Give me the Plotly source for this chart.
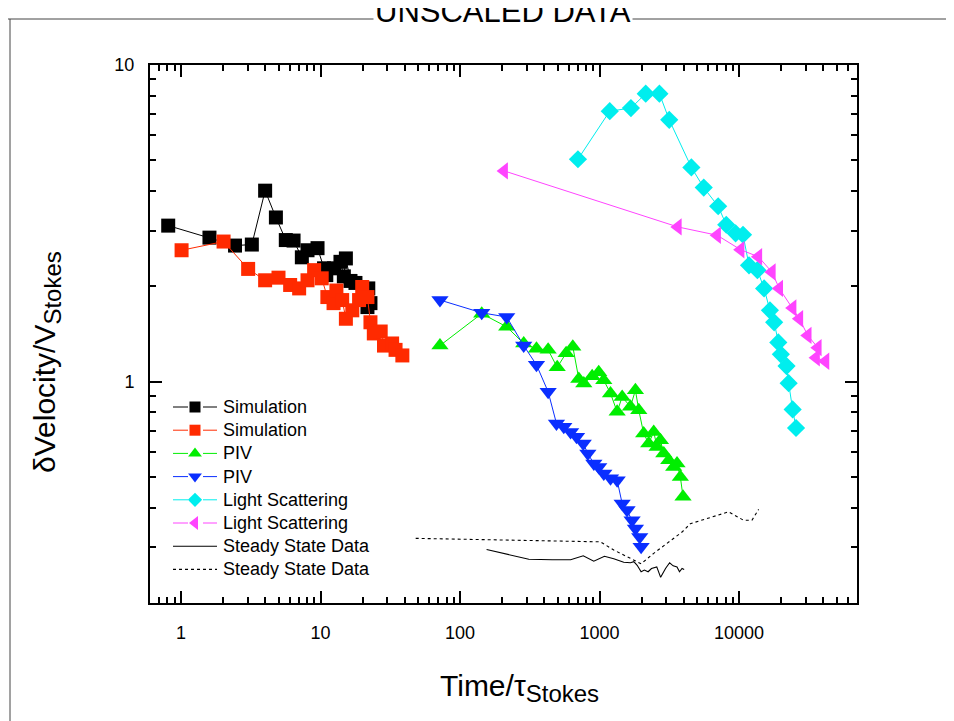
import plotly.graph_objects as go

# ---------------- data ----------------
sim1_x = [0.81, 1.60, 2.44, 3.22, 4.01, 4.79, 5.64, 6.41, 7.35, 8.07, 9.52, 10.6, 11.0, 12.5, 13.9, 14.7, 15.2, 16.4, 17.8, 22.0, 22.8, 21.7]
sim1_y = [3.11, 2.85, 2.69, 2.71, 4.01, 3.30, 2.80, 2.79, 2.47, 2.60, 2.64, 2.28, 2.17, 2.28, 2.39, 2.15, 2.45, 2.08, 2.05, 1.97, 1.77, 1.72]

sim2_x = [1.01, 2.02, 3.03, 4.01, 5.0, 6.06, 7.03, 8.07, 9.0, 10.2, 11.2, 12.4, 13.0, 14.3, 15.2, 16.9, 18.9, 19.9, 21.7, 22.8, 24.1, 27.0, 28.5, 32.6, 34.5, 38.6]
sim2_y = [2.60, 2.77, 2.27, 2.09, 2.13, 2.02, 1.97, 2.09, 2.25, 2.12, 1.85, 1.77, 1.94, 1.81, 1.58, 1.68, 1.81, 1.99, 1.85, 1.54, 1.42, 1.44, 1.30, 1.32, 1.26, 1.21]

piv1_x = [71.8, 143, 216, 286, 353, 428, 497, 576, 643, 710, 771, 885, 986, 1072, 1198, 1337, 1452, 1665, 1807, 1910, 2071, 2250, 2444, 2583, 2730, 2885, 3133, 3400, 3590, 3793, 3965]
piv1_y = [1.30, 1.64, 1.49, 1.32, 1.27, 1.26, 1.11, 1.23, 1.29, 1.02, 0.987, 1.04, 1.07, 1.01, 0.918, 0.803, 0.895, 0.833, 0.940, 0.813, 0.686, 0.638, 0.694, 0.622, 0.653, 0.593, 0.565, 0.538, 0.551, 0.50, 0.433]

piv2_x = [71.8, 143, 216, 286, 353, 428, 491, 554, 620, 684, 764, 824, 910, 986, 1072, 1198, 1337, 1452, 1574, 1710, 1807, 1940, 1985]
piv2_y = [1.81, 1.65, 1.60, 1.30, 1.13, 0.929, 0.738, 0.72, 0.694, 0.67, 0.638, 0.593, 0.551, 0.538, 0.513, 0.495, 0.488, 0.412, 0.393, 0.365, 0.344, 0.323, 0.301]

ls1_x = [700, 1183, 1678, 2142, 2685, 3157, 4550, 5580, 7080, 8090, 9440, 10670, 11780, 13530, 15100, 16630, 17840, 19100, 19920, 21880, 22650, 24200, 25590]
ls1_y = [5.04, 7.15, 7.31, 8.12, 8.12, 6.71, 4.75, 4.10, 3.58, 3.13, 2.94, 2.91, 2.33, 2.25, 1.97, 1.68, 1.54, 1.33, 1.22, 1.12, 0.989, 0.817, 0.714]

ls2_x = [207, 3640, 6960, 10260, 13750, 17170, 19400, 24200, 27040, 31050, 36670, 35620, 41600]
ls2_y = [4.63, 3.08, 2.90, 2.61, 2.48, 2.22, 1.97, 1.71, 1.58, 1.40, 1.28, 1.19, 1.16]

ss1_x = [155, 311, 458, 620, 764, 909, 1084, 1264, 1490, 1665, 1760, 1860, 1985, 2095, 2228, 2355, 2570, 2740, 2970, 3177, 3370, 3590, 3740, 3900, 4040]
ss1_y = [0.295, 0.275, 0.274, 0.274, 0.282, 0.271, 0.281, 0.276, 0.269, 0.268, 0.270, 0.263, 0.251, 0.254, 0.251, 0.257, 0.260, 0.241, 0.257, 0.268, 0.262, 0.260, 0.251, 0.257, 0.255]

ss2_x = [48.1, 1015, 1264, 1577, 1985, 2444, 3048, 3900, 4475, 5890, 8410, 10770, 12360, 13800]
ss2_y = [0.320, 0.312, 0.294, 0.280, 0.266, 0.287, 0.308, 0.335, 0.356, 0.370, 0.388, 0.365, 0.365, 0.395]

x_tickvals = [1, 10, 100, 1000, 10000]
x_ticktext = ["1", "10", "100", "1000", "10000"]
y_tickvals = [1, 10]
y_ticktext = ["1", "10"]

legend_names = ["Simulation", "Simulation", "PIV", "PIV", "Light Scattering",
                "Light Scattering", "Steady State Data", "Steady State Data"]

FONT = "Liberation Sans, Arial"
C_BLACK, C_RED, C_GREEN, C_BLUE, C_CYAN, C_MAG = "#000000", "#FF2A00", "#00EE00", "#0A2EFF", "#00EEEE", "#FF44FF"

series = [
    (sim1_x, sim1_y, C_BLACK, "square", 14, "solid"),
    (sim2_x, sim2_y, C_RED, "square", 14, "solid"),
    (piv1_x, piv1_y, C_GREEN, "triangle-up", 15, "solid"),
    (piv2_x, piv2_y, C_BLUE, "triangle-down", 15, "solid"),
    (ls1_x, ls1_y, C_CYAN, "diamond", 14, "solid"),
    (ls2_x, ls2_y, C_MAG, "triangle-left", 15, "solid"),
    (ss1_x, ss1_y, C_BLACK, None, 0, "solid"),
    (ss2_x, ss2_y, C_BLACK, None, 0, "dot"),
]

# plot-area geometry in screen pixels (used only to place legend / frame / titles)
PX_L, PX_R, PX_T, PX_B = 150, 857, 65, 603
def px(x):
    return (x - PX_L) / (PX_R - PX_L)
def py(y):
    return (PX_B - y) / (PX_B - PX_T)

# ---------------- figure ----------------
fig = go.Figure()

for (x, y, color, sym, size, dash), name in zip(series, legend_names):
    if sym is None:
        fig.add_trace(go.Scatter(x=x, y=y, name=name, mode="lines", showlegend=False,
                                 line=dict(color=color, width=1.1, dash=dash)))
    else:
        fig.add_trace(go.Scatter(x=x, y=y, name=name, mode="lines+markers", showlegend=False,
                                 line=dict(color=color, width=1),
                                 marker=dict(symbol=sym, size=size, color=color, line=dict(width=0))))

# ---- custom legend (overlay axis x2/y2 in pixel-like units) ----
LEG_X0, LEG_X1, LEG_XM, LEG_TX = 173, 217, 195, 221
LEG_Y0, LEG_DY = 407, 23.2
shapes = []
annotations = []
for i, ((x, y, color, sym, size, dash), name) in enumerate(zip(series, legend_names)):
    ry = LEG_Y0 + i * LEG_DY
    if sym is None:
        shapes.append(dict(type="line", xref="paper", yref="paper", x0=px(LEG_X0), x1=px(LEG_X1),
                           y0=py(ry), y1=py(ry), line=dict(color=color, width=1.1, dash=dash)))
    else:
        shapes.append(dict(type="line", xref="paper", yref="paper", x0=px(LEG_X0), x1=px(LEG_XM - 7),
                           y0=py(ry), y1=py(ry), line=dict(color=color, width=1)))
        shapes.append(dict(type="line", xref="paper", yref="paper", x0=px(LEG_XM + 8), x1=px(LEG_X1),
                           y0=py(ry), y1=py(ry), line=dict(color=color, width=1)))
        fig.add_trace(go.Scatter(x=[LEG_XM], y=[ry], xaxis="x2", yaxis="y2", mode="markers",
                                 showlegend=False, hoverinfo="skip",
                                 marker=dict(symbol=sym, size=size - 3, color=color, line=dict(width=0))))
    annotations.append(dict(text=name, xref="paper", yref="paper", x=px(LEG_TX), y=py(ry),
                            xanchor="left", yanchor="middle", showarrow=False,
                            font=dict(family=FONT, size=18, color="black")))

minor_x = [m * 10 ** d for d in range(-1, 5) for m in range(2, 10)]
minor_y = [m * 10 ** d for d in range(-1, 1) for m in range(2, 10)]

axis_common = dict(
    showline=True, linecolor="black", linewidth=2, mirror="ticks",
    ticks="inside", ticklen=12, tickwidth=2, tickcolor="black",
    showgrid=False, zeroline=False,
    tickfont=dict(family=FONT, size=18, color="black"),
)

fig.update_layout(
    xaxis=dict(type="log", range=[-0.222, 4.845],
               tickmode="array", tickvals=x_tickvals, ticktext=x_ticktext,
               minor=dict(tickmode="array", tickvals=minor_x, ticks="inside", ticklen=6,
                          tickwidth=1.5, tickcolor="black", showgrid=False),
               ticklabelstandoff=12, **axis_common),
    yaxis=dict(type="log", range=[-0.699, 1.0],
               tickmode="array", tickvals=y_tickvals, ticktext=y_ticktext,
               minor=dict(tickmode="array", tickvals=minor_y, ticks="inside", ticklen=6,
                          tickwidth=1.5, tickcolor="black", showgrid=False),
               ticklabelstandoff=10, **axis_common),
    xaxis2=dict(overlaying="x", anchor="y2", range=[PX_L, PX_R], visible=False, fixedrange=True),
    yaxis2=dict(overlaying="y", anchor="x2", range=[PX_B, PX_T], visible=False, fixedrange=True),
)

# frame lines and titles
shapes += [
    dict(type="line", xref="paper", yref="paper", x0=px(10), x1=px(10), y0=py(740), y1=py(19),
         line=dict(color="#444444", width=1), layer="below"),
    dict(type="line", xref="paper", yref="paper", x0=px(5), x1=px(980), y0=py(19), y1=py(19),
         line=dict(color="#444444", width=1), layer="below"),
]
annotations += [
    dict(text="UNSCALED DATA", xref="paper", yref="paper", x=px(503), y=py(31),
         xanchor="center", yanchor="bottom", showarrow=False, bgcolor="white",
         font=dict(family=FONT, size=31, color="black")),
    dict(text="Time/τ<sub><span style='font-size:24px'>Stokes</span></sub>", xref="paper", yref="paper",
         x=px(519), y=py(688), xanchor="center", yanchor="middle", showarrow=False,
         font=dict(family=FONT, size=30, color="black")),
    dict(text="δVelocity/V<sub><span style='font-size:24px'>Stokes</span></sub>", xref="paper", yref="paper",
         x=px(47), y=py(362), xanchor="center", yanchor="middle", textangle=-90, showarrow=False,
         font=dict(family=FONT, size=30, color="black")),
]

fig.update_layout(
    width=954, height=721,
    margin=dict(l=142, r=105, t=57, b=126),
    paper_bgcolor="white", plot_bgcolor="white",
    font=dict(family=FONT, color="black"),
    showlegend=False,
    shapes=shapes,
    annotations=annotations,
)

fig.write_html("out.html")
